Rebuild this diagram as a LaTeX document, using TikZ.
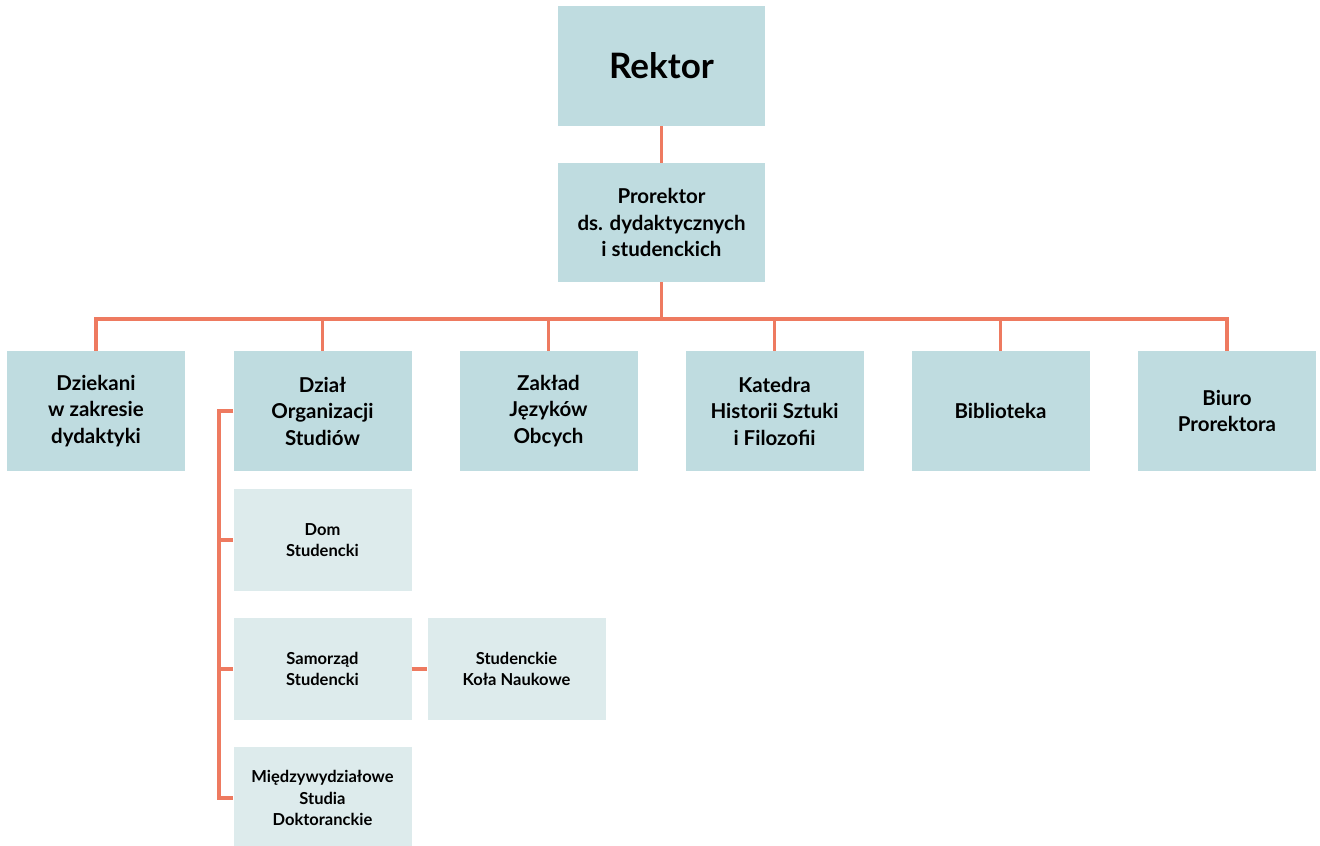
\documentclass[tikz,border=0pt]{standalone}
\usepackage{fontspec}
\setmainfont{Lato}
\definecolor{boxdark}{HTML}{BFDCE0}
\definecolor{boxlight}{HTML}{DDEBEC}
\definecolor{linecol}{HTML}{EE7A60}
\begin{document}
\begin{tikzpicture}[x=1pt,y=-1pt,
  mainbox/.style={fill=boxdark, draw=none, align=center, inner sep=0pt,
    minimum width=178pt, minimum height=120pt,
    font=\fontsize{20.5}{26.5}\selectfont\bfseries},
  subbox/.style={fill=boxlight, draw=none, align=center, inner sep=0pt,
    minimum width=178pt, minimum height=102pt,
    font=\fontsize{16.5}{21.5}\selectfont\bfseries},
  conn/.style={draw=linecol, line width=3.2pt}]
\useasboundingbox (0,0) rectangle (1320,846);
\fill[white] (0,0) rectangle (1320,846);
\begin{scope}
\clip (0,0) rectangle (1320,846);
\node[mainbox, minimum width=207pt, font=\fontsize{35}{40}\selectfont\bfseries] (rek) at (661.5,66) {Rektor};
\node[mainbox, minimum width=207pt, minimum height=119pt] (pro) at (661.5,222.5) {Prorektor\\ds. dydaktycznych\\i studenckich};
\node[mainbox] (dzi) at (96,411) {Dziekani\\w zakresie\\dydaktyki};
\node[mainbox] (dos) at (322.5,411) {Dział\\Organizacji\\Studiów};
\node[mainbox] (zjo) at (548.5,411) {Zakład\\Języków\\Obcych};
\node[mainbox] (khs) at (774.5,411) {Katedra\\Historii Sztuki\\i Filozofii};
\node[mainbox] (bib) at (1000.5,411) {Biblioteka};
\node[mainbox] (bpr) at (1227,411) {Biuro\\Prorektora};
\node[subbox] (dom) at (322.5,540) {Dom\\Studencki};
\node[subbox] (sam) at (322.5,669) {Samorząd\\Studencki};
\node[subbox] (skn) at (516.5,669) {Studenckie\\Koła Naukowe};
\node[subbox] (msd) at (322.5,798) {Międzywydziałowe\\Studia\\Doktoranckie};
\coordinate (bus) at (0,319);
\coordinate (spine) at (219,0);
\draw[conn] (rek.south) -- (pro.north);
\draw[conn] (pro.south) -- (pro.south |- bus);
\foreach \c in {dzi,dos,zjo,khs,bib,bpr}
  \draw[conn] (\c.north) |- (pro.south |- bus);
\draw[conn] (dos.west) -- (dos.west -| spine) |- (msd.west);
\draw[conn] (dom.west -| spine) -- (dom.west);
\draw[conn] (sam.west -| spine) -- (sam.west);
\draw[conn] (sam.east) -- (skn.west);
\end{scope}
\end{tikzpicture}
\end{document}
